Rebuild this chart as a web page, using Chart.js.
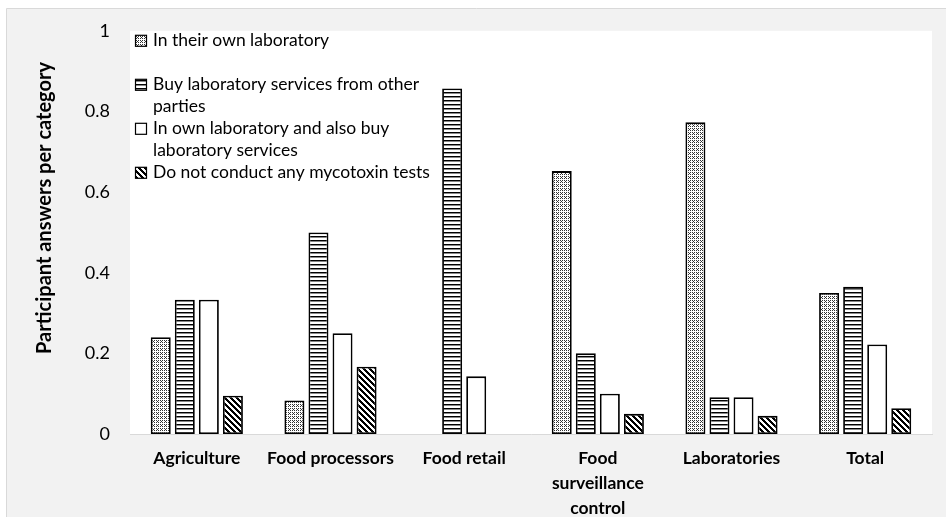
<!DOCTYPE html>
<html>
<head>
<meta charset="utf-8">
<script src="https://cdn.jsdelivr.net/npm/chart.js@4"></script>
<style>
  html, body { margin: 0; padding: 0; background: #fff; }
  canvas { display: block; }
</style>
</head>
<body>
<canvas id="chart" width="946" height="517"></canvas>
<script>
const categories = ['Agriculture', 'Food processors', 'Food retail', ['Food', 'surveillance', 'control'], 'Laboratories', 'Total'];

const ownLab = [0.24, 0.083, 0, 0.652, 0.773, 0.35];
const buyServices = [0.333, 0.5, 0.857, 0.2, 0.091, 0.365];
const ownAndBuy = [0.333, 0.25, 0.143, 0.1, 0.091, 0.222];
const noTests = [0.095, 0.167, 0, 0.05, 0.045, 0.064];

const seriesNames = [
  ['In their own laboratory'],
  ['Buy laboratory services from other', 'parties'],
  ['In own laboratory and also buy', 'laboratory services'],
  ['Do not conduct any mycotoxin tests']
];

const FONT = 'Lato';

// little tiles for the hatch fills
function tile(w, h, fn) {
  const c = document.createElement('canvas');
  c.width = w; c.height = h;
  const g = c.getContext('2d');
  g.fillStyle = '#fff';
  g.fillRect(0, 0, w, h);
  for (let y = 0; y < h; y++)
    for (let x = 0; x < w; x++) {
      const v = fn(x, y);
      if (v) {
        g.fillStyle = v === true ? '#000' : v;
        g.fillRect(x, y, 1, 1);
      }
    }
  return g.createPattern(c, 'repeat');
}
const dotted = tile(4, 4, (x, y) => (x % 2 === 0 && y % 2 === 0) || (x === 1 && y === 1) ? '#333' : false);
const hstripe = tile(4, 4, (x, y) => y === 0 ? true : (y === 1 ? '#888' : false));
const plain = '#fff';
const diag = tile(6, 6, (x, y) => ((x - y + 12) % 6) < 3);
const fills = [dotted, hstripe, plain, diag];

const bgPlugin = {
  id: 'bg',
  beforeDraw(chart) {
    const ctx = chart.ctx, a = chart.chartArea;
    ctx.save();
    ctx.fillStyle = '#fff';
    ctx.fillRect(0, 0, chart.width, chart.height);
    ctx.fillStyle = '#f2f2f2';
    ctx.fillRect(7, 9, chart.width - 7, chart.height - 9);
    ctx.strokeStyle = '#d9d9d9';
    ctx.lineWidth = 1;
    ctx.beginPath();
    ctx.moveTo(6.5, chart.height);
    ctx.lineTo(6.5, 8.5);
    ctx.lineTo(chart.width, 8.5);
    ctx.stroke();
    ctx.fillStyle = '#fff';
    ctx.fillRect(a.left, a.top, a.right - a.left, a.bottom - a.top);
    ctx.restore();
  },
  afterDraw(chart) {
    const ctx = chart.ctx, a = chart.chartArea;
    ctx.save();
    // axis title
    ctx.translate(45, 208);
    ctx.rotate(-Math.PI / 2);
    ctx.font = 'bold 20px ' + FONT;
    ctx.fillStyle = '#000';
    ctx.textAlign = 'center';
    ctx.textBaseline = 'middle';
    ctx.fillText('Participant answers per category', 0, 0);
    ctx.restore();

    // legend, top left inside the plot
    ctx.save();
    ctx.font = '17.5px ' + FONT;
    ctx.textBaseline = 'middle';
    chart.data.datasets.forEach((ds, i) => {
      const y0 = a.top + 10 + i * 44;
      ctx.fillStyle = ds.backgroundColor;
      ctx.fillRect(a.left + 5.5, y0 - 5.5, 11, 11);
      ctx.strokeStyle = '#000';
      ctx.lineWidth = 1.2;
      ctx.strokeRect(a.left + 5.5, y0 - 5.5, 11, 11);
      ctx.fillStyle = '#000';
      seriesNames[i].forEach((line, j) => {
        ctx.fillText(line, a.left + 23, y0 + j * 22);
      });
    });
    ctx.restore();
  }
};

const series = [ownLab, buyServices, ownAndBuy, noTests];

new Chart(document.getElementById('chart'), {
  type: 'bar',
  data: {
    labels: categories,
    datasets: series.map((d, i) => ({
      label: seriesNames[i].join(' '),
      data: d,
      backgroundColor: fills[i],
      borderColor: '#000',
      borderWidth: 1.8,
      borderSkipped: false,
      categoryPercentage: 0.72,
      barPercentage: 0.83
    }))
  },
  options: {
    responsive: false,
    animation: false,
    layout: { padding: { top: 28, right: 14, left: 0, bottom: 0 } },
    plugins: {
      legend: { display: false },
      tooltip: { enabled: false }
    },
    scales: {
      x: {
        grid: { display: false, drawTicks: false },
        border: { color: '#d9d9d9', width: 1 },
        ticks: {
          color: '#000',
          padding: 12,
          maxRotation: 0,
          autoSkip: false,
          font: { family: FONT, size: 17.5, weight: 'bold', lineHeight: 1.42 }
        },
        afterFit(s) { s.height = 83; }
      },
      y: {
        min: 0,
        max: 1,
        grid: { display: false, drawTicks: false },
        border: { display: false },
        ticks: {
          stepSize: 0.2,
          color: '#000',
          padding: 20,
          font: { family: FONT, size: 18 },
          callback: v => String(+v.toFixed(1))
        },
        afterFit(s) { s.width = 130; }
      }
    }
  },
  plugins: [bgPlugin]
});
</script>
</body>
</html>
